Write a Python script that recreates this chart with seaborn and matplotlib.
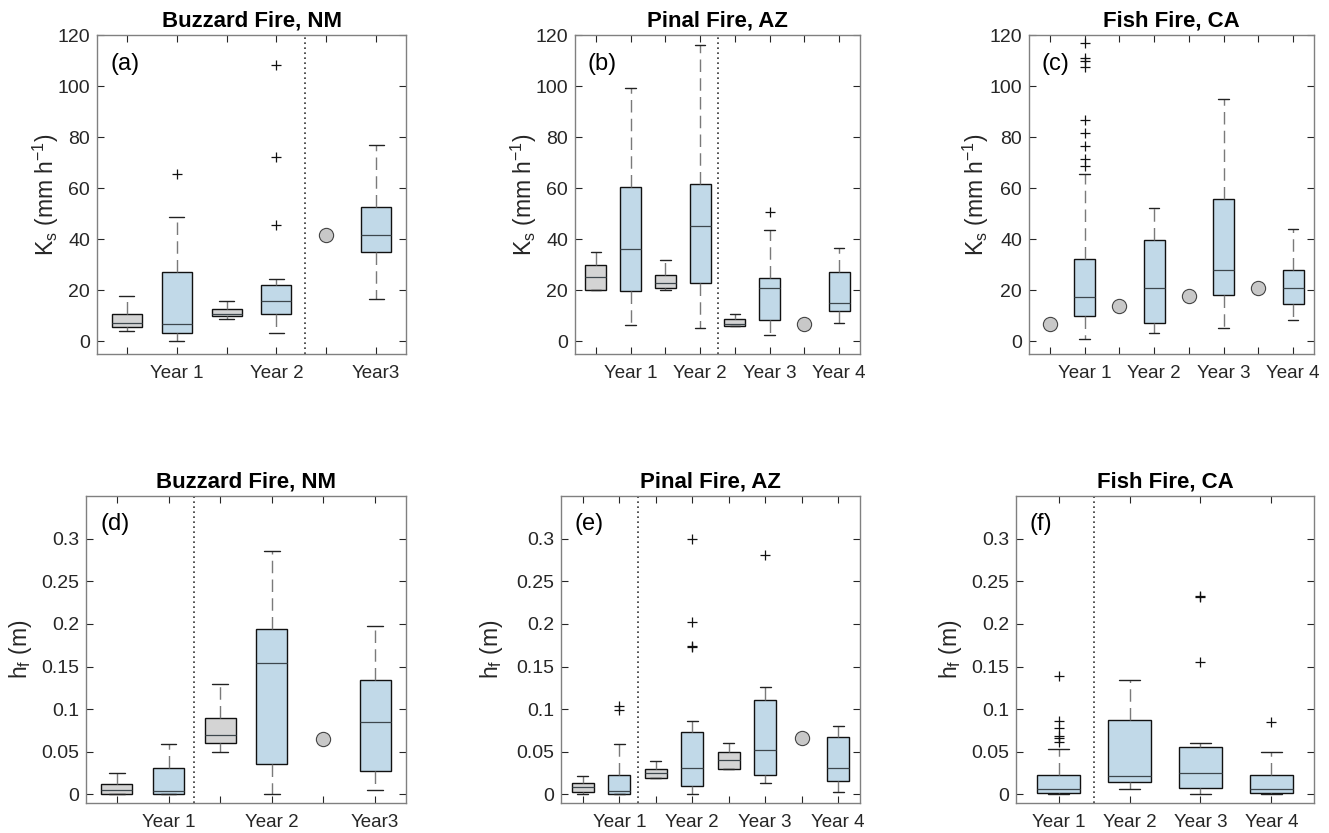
import matplotlib
matplotlib.use("Agg")
import matplotlib.pyplot as plt
import seaborn as sns
import pandas as pd

# ---- values ----
# box = (lower whisker, q1, median, q3, upper whisker); None where only one site value exists
# kind: "ctrl" = gray (unburned), "burn" = light blue (burned)

# Buzzard Fire, NM - Ks
buz_ks_box = [(3.9, 5.4, 7.3, 10.8, 17.9), (0.0, 3.4, 6.7, 27.2, 48.8),
              (8.9, 9.8, 10.8, 12.8, 15.8), (3.4, 10.6, 15.8, 22.2, 24.2),
              None, (16.5, 34.8, 41.6, 52.5, 77.0)]
buz_ks_pt = [None, None, None, None, 41.7, None]
buz_ks_out = [[], [65.6], [], [45.5, 72.2, 108.2], [], []]
buz_kind = ["ctrl", "burn", "ctrl", "burn", "ctrl", "burn"]
buz_labels = ["", "Year 1", "", "Year 2", "", "Year3"]

# Pinal Fire, AZ - Ks
pin_ks_box = [(19.9, 19.9, 25.0, 29.8, 34.8), (6.5, 19.6, 36.1, 60.5, 99.2),
              (19.9, 20.8, 23.0, 25.8, 31.9), (5.0, 23.0, 45.0, 61.8, 115.9),
              (5.9, 5.9, 6.9, 8.9, 10.7), (2.6, 8.4, 20.8, 24.6, 43.4),
              None, (7.1, 12.0, 15.0, 27.2, 36.6)]
pin_ks_pt = [None, None, None, None, None, None, 6.7, None]
pin_ks_out = [[], [], [], [], [], [50.7], [], []]
pin_kind = ["ctrl", "burn", "ctrl", "burn", "ctrl", "burn", "ctrl", "burn"]
pin_labels = ["", "Year 1", "", "Year 2", "", "Year 3", "", "Year 4"]

# Fish Fire, CA - Ks
fish_ks_box = [None, (1.0, 9.8, 17.3, 32.2, 65.5), None, (3.4, 7.3, 20.7, 39.7, 52.3),
               None, (5.2, 18.3, 28.1, 55.6, 94.8), None, (8.2, 14.6, 20.7, 28.1, 44.1)]
fish_ks_pt = [6.9, None, 13.9, None, 17.9, None, 20.9, None]
fish_ks_out = [[], [68.6, 71.5, 76.7, 81.5, 86.7, 107.6, 109.8, 110.8, 116.7],
               [], [], [], [], [], []]
fish_ks_kind = ["ctrl", "burn", "ctrl", "burn", "ctrl", "burn", "ctrl", "burn"]
fish_ks_labels = ["", "Year 1", "", "Year 2", "", "Year 3", "", "Year 4"]

# Buzzard Fire, NM - hf
buz_hf_box = [(0.0, 0.0, 0.005, 0.012, 0.0246), (0.0, 0.0, 0.004, 0.0305, 0.059),
              (0.0496, 0.0598, 0.0695, 0.0902, 0.1297), (0.0, 0.0352, 0.1547, 0.1945, 0.2855),
              None, (0.0047, 0.027, 0.0855, 0.1348, 0.1977)]
buz_hf_pt = [None, None, None, None, 0.0645, None]
buz_hf_out = [[], [], [], [], [], []]

# Pinal Fire, AZ - hf
pin_hf_box = [(0.0, 0.0027, 0.009, 0.014, 0.0215), (0.0, 0.0, 0.004, 0.0234, 0.059),
              (0.0195, 0.0195, 0.025, 0.0297, 0.0398), (0.0, 0.0098, 0.0305, 0.0734, 0.0863),
              (0.0297, 0.0297, 0.0402, 0.0496, 0.0598), (0.0137, 0.0227, 0.0516, 0.1105, 0.1258),
              None, (0.0027, 0.0156, 0.0305, 0.0676, 0.080)]
pin_hf_pt = [None, None, None, None, None, None, 0.0668, None]
pin_hf_out = [[], [0.099, 0.104], [], [0.1727, 0.174, 0.2027, 0.300], [], [0.2809], [], []]

# Fish Fire, CA - hf
fish_hf_box = [(0.0, 0.0012, 0.0059, 0.0223, 0.0535), (0.0059, 0.0148, 0.0211, 0.0875, 0.134),
               (0.0, 0.0074, 0.0254, 0.0559, 0.0598), (0.0, 0.002, 0.0059, 0.0234, 0.0496)]
fish_hf_pt = [None, None, None, None]
fish_hf_out = [[0.0613, 0.0664, 0.0684, 0.0785, 0.0863, 0.139], [],
               [0.1559, 0.231, 0.2324], [0.0844]]
fish_hf_kind = ["burn", "burn", "burn", "burn"]
fish_hf_labels = ["Year 1", "Year 2", "Year 3", "Year 4"]

# ---- styling ----
sns.set_theme(style="ticks")
plt.rcParams["font.family"] = ["Liberation Sans", "DejaVu Sans"]
plt.rcParams["mathtext.fontset"] = "custom"
plt.rcParams["mathtext.rm"] = "Liberation Sans"
plt.rcParams["mathtext.it"] = "Liberation Sans:italic"

FILL = {"ctrl": "#d4d4d4", "burn": "#c1d9e8"}
TXT = "#262626"
W, H = 1329, 833


def add_ax(fig, x0, x1, y0, y1):
    return fig.add_axes([x0 / W, 1 - y1 / H, (x1 - x0) / W, (y1 - y0) / H])


def draw_panel(ax, boxes, points, fliers, kinds, labels, title, letter,
               ylabel, ylab_x, ylim, yticks, divider=None):
    n = len(boxes)
    for i, (st, fl, kd) in enumerate(zip(boxes, fliers, kinds)):
        if st is None:
            continue
        lo, q1, med, q3, hi = st
        ax.bxp([dict(whislo=lo, q1=q1, med=med, q3=q3, whishi=hi, fliers=fl)],
               positions=[i + 1], widths=0.6, capwidths=0.3, patch_artist=True,
               manage_ticks=False,
               boxprops=dict(facecolor=FILL[kd], edgecolor="#111111", linewidth=1.0),
               whiskerprops=dict(color="#7a7a7a", linestyle=(0, (9, 4.5)), linewidth=1.0),
               capprops=dict(color="#222222", linewidth=1.0),
               medianprops=dict(color="#3d474d", linewidth=0.9),
               flierprops=dict(marker="+", markeredgecolor="#111111",
                               markersize=7, markeredgewidth=0.9))

    pts = pd.DataFrame({"pos": [i + 1 for i, p in enumerate(points) if p is not None],
                        "val": [p for p in points if p is not None]})
    if len(pts):
        sns.scatterplot(data=pts, x="pos", y="val", ax=ax, s=105, color="#c8c8c8",
                        edgecolor="#444444", linewidth=0.8, zorder=3, legend=False)

    if divider is not None:
        ax.axvline(divider, color="#333333", linestyle=(0, (1, 2)), linewidth=1.2)

    ax.set_xlim(0.4, n + 0.6)
    ax.set_ylim(*ylim)
    ax.set_xticks(range(1, n + 1))
    ax.set_xticklabels(labels)
    ax.set_yticks(yticks)
    ax.set_yticklabels([f"{v:g}" for v in yticks])
    ax.set_xlabel("")
    ax.set_ylabel(ylabel, fontsize=16.5, color=TXT)
    ax.yaxis.set_label_coords(ylab_x, 0.5)
    ax.yaxis.label.set_va("center")
    ax.set_title(title, fontsize=16, fontweight="bold", pad=6, color="black")
    ax.text(0.045, 0.91, letter, transform=ax.transAxes, fontsize=17,
            va="center", ha="left", color="black")

    ax.tick_params(direction="in", length=5, width=0.8, top=True, right=True,
                   color=TXT, labelcolor=TXT, labelsize=14)
    ax.tick_params(axis="x", pad=8, labelsize=13.5)
    ax.tick_params(axis="y", pad=5)
    for sp in ax.spines.values():
        sp.set_color("#808080")
        sp.set_linewidth(1.0)
        sp.set_visible(True)
    ax.grid(False)


fig = plt.figure(figsize=(W / 100, H / 100), dpi=100)
ks_label = r"K$_\mathregular{s}$ (mm h$^{\mathregular{-1}}$)"
hf_label = r"h$_\mathregular{f}$ (m)"
ks_ticks = [0, 20, 40, 60, 80, 100, 120]
hf_ticks = [0, 0.05, 0.1, 0.15, 0.2, 0.25, 0.3]

ax = add_ax(fig, 97, 406, 35, 354)
draw_panel(ax, buz_ks_box, buz_ks_pt, buz_ks_out, buz_kind, buz_labels,
           "Buzzard Fire, NM", "(a)", ks_label, -0.165, (-5, 120), ks_ticks, 4.57)

ax = add_ax(fig, 575, 860, 35, 354)
draw_panel(ax, pin_ks_box, pin_ks_pt, pin_ks_out, pin_kind, pin_labels,
           "Pinal Fire, AZ", "(b)", ks_label, -0.179, (-5, 120), ks_ticks, 4.5)

ax = add_ax(fig, 1029, 1314, 35, 354)
draw_panel(ax, fish_ks_box, fish_ks_pt, fish_ks_out, fish_ks_kind, fish_ks_labels,
           "Fish Fire, CA", "(c)", ks_label, -0.186, (-5, 120), ks_ticks)

ax = add_ax(fig, 86, 406, 496, 803)
draw_panel(ax, buz_hf_box, buz_hf_pt, buz_hf_out, buz_kind, buz_labels,
           "Buzzard Fire, NM", "(d)", hf_label, -0.206, (-0.01, 0.35), hf_ticks, 2.5)

ax = add_ax(fig, 561, 860, 496, 803)
draw_panel(ax, pin_hf_box, pin_hf_pt, pin_hf_out, pin_kind, pin_labels,
           "Pinal Fire, AZ", "(e)", hf_label, -0.234, (-0.01, 0.35), hf_ticks, 2.5)

ax = add_ax(fig, 1016, 1314, 496, 803)
draw_panel(ax, fish_hf_box, fish_hf_pt, fish_hf_out, fish_hf_kind, fish_hf_labels,
           "Fish Fire, CA", "(f)", hf_label, -0.221, (-0.01, 0.35), hf_ticks, 1.5)

fig.savefig("out.png", dpi=100, facecolor="white")
